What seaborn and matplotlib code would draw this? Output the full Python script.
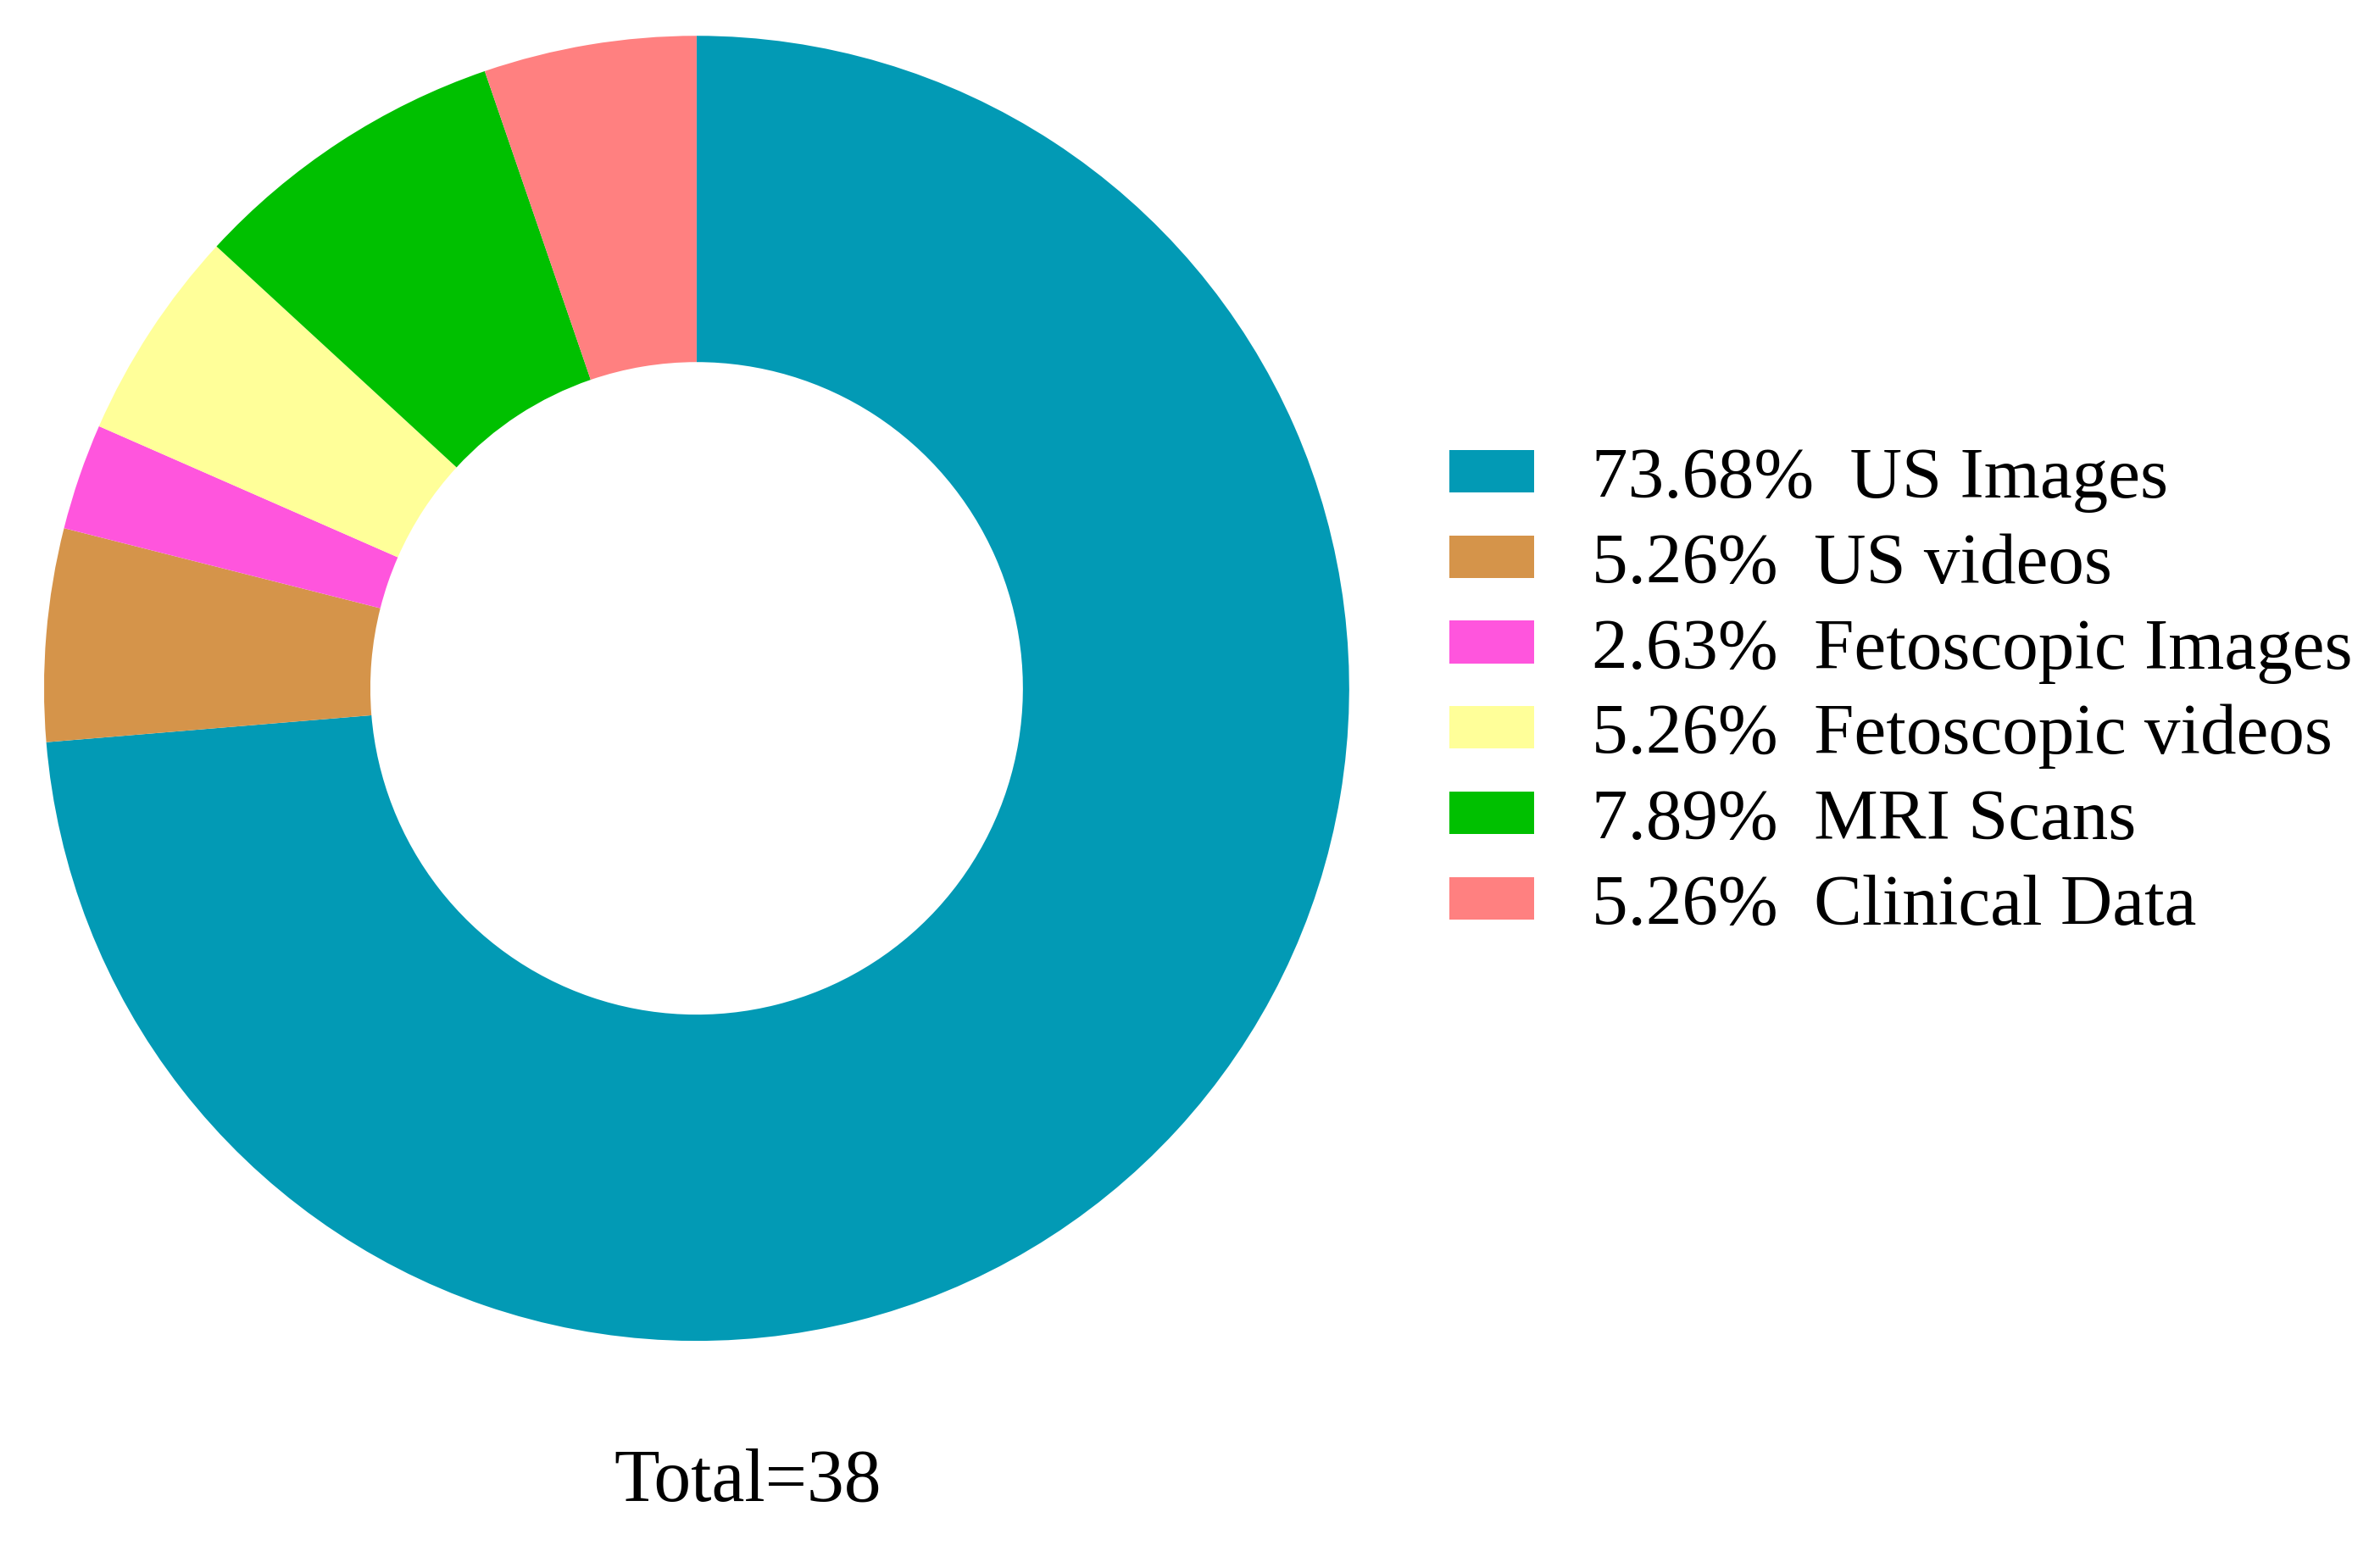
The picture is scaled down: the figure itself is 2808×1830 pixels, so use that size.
import matplotlib
matplotlib.use("Agg")
import matplotlib.pyplot as plt
import seaborn as sns

sns.set_theme(style="white")
plt.rcParams['font.family'] = ['Liberation Serif', 'DejaVu Serif']
plt.rcParams['text.color'] = 'black'

categories = ["US Images", "US videos", "Fetoscopic Images", "Fetoscopic videos", "MRI Scans", "Clinical Data"]
counts = [28, 2, 1, 2, 3, 2]
colors = ["#029AB5", "#D5944A", "#FF55DD", "#FFFF99", "#00C000", "#FF8080"]

total = sum(counts)
labels = [f"{c/total*100:.2f}%  {n}" for c, n in zip(counts, categories)]

fig = plt.figure(figsize=(15.6, 10.172), dpi=180)
ax = fig.add_axes([0.0185, 0.1354, 0.5484, 0.841])
wedges, _ = ax.pie(counts, colors=colors, startangle=90, counterclock=False,
                   radius=1, wedgeprops=dict(width=0.5, edgecolor='none'))
ax.set_xlim(-1, 1); ax.set_ylim(-1, 1); ax.set_aspect('equal')
ax.axis('off')

leg = fig.legend(wedges, labels, loc='center left', bbox_to_anchor=(0.609, 0.553),
                 frameon=False, fontsize=34, handlelength=1.17, handleheight=0.53,
                 labelspacing=0.28, handletextpad=0.8, borderpad=0, borderaxespad=0)
for t in leg.get_texts():
    t.set_color('black')
fig.text(0.314, 0.045, f"Total={total}", ha='center', va='center', fontsize=35, color='black')
fig.savefig("out.png", dpi=180, facecolor='white')
